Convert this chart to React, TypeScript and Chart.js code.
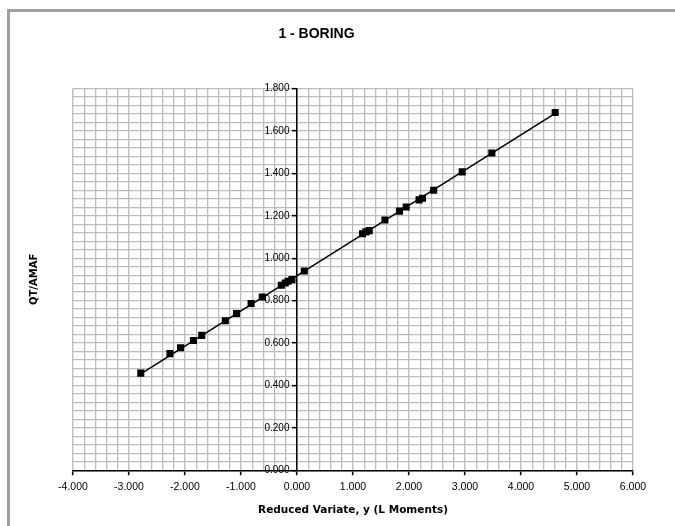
import React, { useEffect, useRef } from "react";
import { Chart, registerables } from "chart.js";

Chart.register(...registerables);

const titleText = "1 - BORING";
const xTitle = "Reduced Variate, y (L Moments)";
const yTitle = "QT/AMAF";

const variateX = [
  -2.79, -2.27, -2.08, -1.85, -1.7, -1.28, -1.08, -0.82, -0.62, -0.28, -0.21, -0.16, -0.09,
  0.13, 1.17, 1.23, 1.29, 1.57, 1.83, 1.95, 2.18, 2.24, 2.44, 2.95, 3.48, 4.61,
];
const ratioY = [
  0.458, 0.55, 0.578, 0.612, 0.636, 0.705, 0.739, 0.786, 0.817, 0.872, 0.883, 0.891, 0.899,
  0.94, 1.115, 1.124, 1.13, 1.18, 1.222, 1.241, 1.275, 1.283, 1.32, 1.407, 1.496, 1.687,
];
const trendX = [-2.79, 4.61];
const trendY = [0.455, 1.683];

const xMin = -4;
const xMax = 6;
const xMinorStep = 0.2;
const yMin = 0;
const yMax = 1.8;
const yMinorStep = 0.04;
const yMajorStep = 0.2;

const isMultiple = (v: number, step: number) => Math.abs(v / step - Math.round(v / step)) < 1e-6;

const gridColor = "#bcbcbc";

export default function App() {
  const ref = useRef<HTMLCanvasElement | null>(null);

  useEffect(() => {
    if (!ref.current) return;
    const chart = new Chart(ref.current, {
      type: "scatter",
      data: {
        datasets: [
          {
            label: "data",
            data: variateX.map((x, i) => ({ x, y: ratioY[i] })),
            pointStyle: "rect",
            pointRadius: 5,
            backgroundColor: "#000",
            borderColor: "#000",
            borderWidth: 0,
            showLine: false,
          },
          {
            label: "trend",
            data: trendX.map((x, i) => ({ x, y: trendY[i] })),
            showLine: true,
            pointRadius: 0,
            borderColor: "#000",
            borderWidth: 1.5,
            fill: false,
          },
        ],
      },
      options: {
        responsive: false,
        animation: false,
        layout: { padding: { left: 0, right: 42, top: 0, bottom: 4 } },
        plugins: {
          legend: { display: false },
          tooltip: { enabled: false },
          title: {
            display: true,
            text: titleText,
            color: "#000",
            font: { family: "'Liberation Sans', Arial, sans-serif", size: 14, weight: "bold" },
            padding: { top: 25.6, bottom: 46.1 },
          },
        },
        scales: {
          x: {
            type: "linear",
            position: "bottom",
            min: xMin,
            max: xMax,
            ticks: {
              stepSize: xMinorStep,
              maxTicksLimit: 1000,
              autoSkip: false,
              maxRotation: 0,
              padding: 5.7,
              color: "#000",
              font: { family: "'Liberation Sans', Arial, sans-serif", size: 10.5 },
              callback: (v: any) => (isMultiple(Number(v), 1) ? Number(v).toFixed(3) : ""),
            },
            grid: {
              color: gridColor,
              lineWidth: 1.3,
              drawTicks: true,
              tickLength: 5,
              tickColor: (ctx: any) =>
                ctx.tick && isMultiple(ctx.tick.value, 1) ? "#000" : "rgba(0,0,0,0)",
              tickWidth: 1.5,
            },
            border: { display: true, color: "#000", width: 1.5 },
            title: {
              display: true,
              text: xTitle,
              color: "#000",
              font: { family: "'DejaVu Sans', Verdana, sans-serif", size: 10.5, weight: "bold" },
              padding: { top: 4.4, bottom: 5.7 },
            },
          },
          y: {
            type: "linear",
            position: { x: 0 } as any,
            min: yMin,
            max: yMax,
            ticks: {
              stepSize: yMinorStep,
              maxTicksLimit: 1000,
              autoSkip: false,
              color: "#000",
              font: { family: "'Liberation Sans', Arial, sans-serif", size: 10 },
              callback: (v: any) =>
                isMultiple(Number(v), yMajorStep) ? Number(v).toFixed(3) + "\u00a0\u00a0\u2009" : "",
            },
            grid: {
              color: gridColor,
              lineWidth: 1.3,
              drawTicks: true,
              tickLength: 4,
              tickColor: (ctx: any) =>
                ctx.tick && isMultiple(ctx.tick.value, yMajorStep) ? "#000" : "rgba(0,0,0,0)",
              tickWidth: 1.5,
            },
            border: { display: true, color: "#000", width: 1.5 },
          },
          yTitleAxis: {
            type: "linear",
            position: "left",
            min: yMin,
            max: yMax,
            ticks: { display: false },
            grid: { display: false, drawTicks: false },
            border: { display: false },
            title: {
              display: true,
              text: yTitle,
              color: "#000",
              font: { family: "'DejaVu Sans', Verdana, sans-serif", size: 10, weight: "bold" },
              padding: { top: 28, bottom: 33 },
            },
          },
        },
      },
    });
    return () => chart.destroy();
  }, []);

  return (
    <div
      style={{
        position: "fixed",
        left: 0,
        top: 0,
        width: 675,
        height: 526,
        overflow: "hidden",
        background: "#fff",
      }}
    >
      <div
        style={{
          position: "absolute",
          left: 7,
          top: 9,
          width: 700,
          height: 600,
          borderTop: "3px solid #a0a0a0",
          borderLeft: "3px solid #a0a0a0",
        }}
      />
      <canvas
        ref={ref}
        width={675}
        height={526}
        style={{ position: "absolute", left: 0, top: 0, width: 675, height: 526 }}
      />
    </div>
  );
}
